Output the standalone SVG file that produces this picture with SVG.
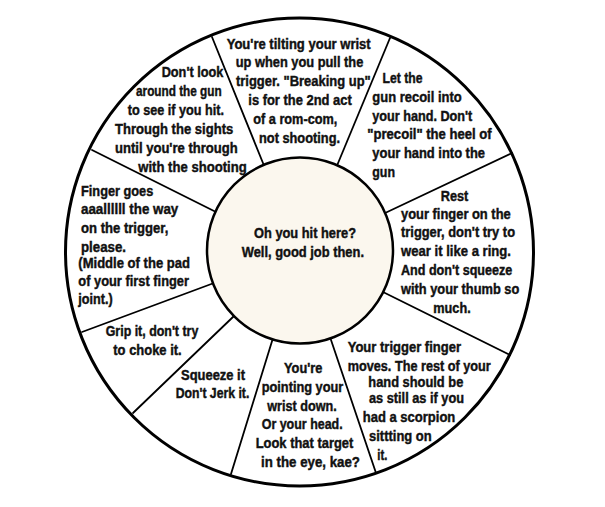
<svg xmlns="http://www.w3.org/2000/svg" width="605" height="507" viewBox="0 0 605 507">
<style>
  .t { font-family: "Liberation Sans", Arial, sans-serif; font-weight: bold; font-size: 15.5px; fill: #111; stroke: #111; stroke-width: 0.45; }
  .ring { fill: #fff; stroke: #000; stroke-width: 3; }
  .bull { fill: #fbf7ee; stroke: #000; stroke-width: 2.5; }
  .div { stroke: #000; stroke-width: 1.8; fill: none; stroke-linecap: round; }
</style>
<rect width="605" height="507" fill="#fff"/>
<g id="target-ring">
  <circle class="ring" cx="299.5" cy="252" r="234"/>
</g>
<g id="connectors">
  <line class="div" x1="265" y1="168" x2="212" y2="37"/>
  <line class="div" x1="336" y1="168" x2="390" y2="38"/>
  <line class="div" x1="383" y1="214" x2="512" y2="153"/>
  <line class="div" x1="383" y1="292" x2="510" y2="355"/>
  <line class="div" x1="330" y1="337" x2="376" y2="473"/>
  <line class="div" x1="273" y1="338" x2="231" y2="474"/>
  <line class="div" x1="234" y1="316" x2="133" y2="413"/>
  <line class="div" x1="214" y1="283" x2="82" y2="332"/>
  <line class="div" x1="216" y1="212" x2="92" y2="150"/>
</g>
<g id="bullseye">
  <circle class="bull" cx="300" cy="250.5" r="93"/>
  <text class="t" x="254" y="238" textLength="102" lengthAdjust="spacingAndGlyphs">Oh you hit here?</text>
  <text class="t" x="241.7" y="257" textLength="122.3" lengthAdjust="spacingAndGlyphs">Well, good job then.</text>
</g>
<g id="seg-top">
  <text class="t" x="226.7" y="49.3" textLength="144" lengthAdjust="spacingAndGlyphs">You're tilting your wrist</text>
  <text class="t" x="235.7" y="67.3" textLength="127.6" lengthAdjust="spacingAndGlyphs">up when you pull the</text>
  <text class="t" x="236" y="86" textLength="134.7" lengthAdjust="spacingAndGlyphs">trigger. "Breaking up"</text>
  <text class="t" x="248.3" y="105.3" textLength="103.4" lengthAdjust="spacingAndGlyphs">is for the 2nd act</text>
  <text class="t" x="253.3" y="124.3" textLength="84" lengthAdjust="spacingAndGlyphs">of a rom-com,</text>
  <text class="t" x="259" y="143.3" textLength="81" lengthAdjust="spacingAndGlyphs">not shooting.</text>
</g>
<g id="seg-top-right">
  <text class="t" x="382.5" y="82.7" textLength="40" lengthAdjust="spacingAndGlyphs">Let the</text>
  <text class="t" x="372.3" y="101.7" textLength="89.4" lengthAdjust="spacingAndGlyphs">gun recoil into</text>
  <text class="t" x="372.3" y="120.5" textLength="100" lengthAdjust="spacingAndGlyphs">your hand. Don't</text>
  <text class="t" x="367.3" y="139.3" textLength="124.4" lengthAdjust="spacingAndGlyphs">"precoil" the heel of</text>
  <text class="t" x="372.3" y="158.3" textLength="112.7" lengthAdjust="spacingAndGlyphs">your hand into the</text>
  <text class="t" x="372.3" y="176.7" textLength="22.7" lengthAdjust="spacingAndGlyphs">gun</text>
</g>
<g id="seg-right">
  <text class="t" x="440.7" y="200.7" textLength="27.6" lengthAdjust="spacingAndGlyphs">Rest</text>
  <text class="t" x="401" y="219" textLength="109.7" lengthAdjust="spacingAndGlyphs">your finger on the</text>
  <text class="t" x="401" y="237.3" textLength="114" lengthAdjust="spacingAndGlyphs">trigger, don't try to</text>
  <text class="t" x="401" y="256" textLength="110" lengthAdjust="spacingAndGlyphs">wear it like a ring.</text>
  <text class="t" x="401" y="275" textLength="111.3" lengthAdjust="spacingAndGlyphs">And don't squeeze</text>
  <text class="t" x="401" y="294" textLength="118.3" lengthAdjust="spacingAndGlyphs">with your thumb so</text>
  <text class="t" x="433.3" y="312.7" textLength="37.4" lengthAdjust="spacingAndGlyphs">much.</text>
</g>
<g id="seg-bottom-right">
  <text class="t" x="347.7" y="352.3" textLength="113.3" lengthAdjust="spacingAndGlyphs">Your trigger finger</text>
  <text class="t" x="347.7" y="370.5" textLength="143" lengthAdjust="spacingAndGlyphs">moves. The rest of your</text>
  <text class="t" x="368.3" y="386.5" textLength="95" lengthAdjust="spacingAndGlyphs">hand should be</text>
  <text class="t" x="369" y="403" textLength="95" lengthAdjust="spacingAndGlyphs">as still as if you</text>
  <text class="t" x="362.7" y="422" textLength="92.6" lengthAdjust="spacingAndGlyphs">had a scorpion</text>
  <text class="t" x="369" y="441" textLength="62.7" lengthAdjust="spacingAndGlyphs">sittting on</text>
  <text class="t" x="377.3" y="459.5" textLength="10" lengthAdjust="spacingAndGlyphs">it.</text>
</g>
<g id="seg-bottom">
  <text class="t" x="284" y="372.7" textLength="38.3" lengthAdjust="spacingAndGlyphs">You're</text>
  <text class="t" x="261.7" y="391.7" textLength="81.6" lengthAdjust="spacingAndGlyphs">pointing your</text>
  <text class="t" x="267.3" y="410.7" textLength="69.4" lengthAdjust="spacingAndGlyphs">wrist down.</text>
  <text class="t" x="261.7" y="429.3" textLength="81" lengthAdjust="spacingAndGlyphs">Or your head.</text>
  <text class="t" x="255.7" y="448.3" textLength="97.6" lengthAdjust="spacingAndGlyphs">Look that target</text>
  <text class="t" x="261" y="466.7" textLength="99" lengthAdjust="spacingAndGlyphs">in the eye, kae?</text>
</g>
<g id="seg-bottom-left">
  <text class="t" x="181" y="380" textLength="64" lengthAdjust="spacingAndGlyphs">Squeeze it</text>
  <text class="t" x="175.7" y="398.3" textLength="73.6" lengthAdjust="spacingAndGlyphs">Don't Jerk it.</text>
</g>
<g id="seg-lower-left">
  <text class="t" x="105.7" y="336" textLength="92.6" lengthAdjust="spacingAndGlyphs">Grip it, don't try</text>
  <text class="t" x="113.3" y="355" textLength="68.4" lengthAdjust="spacingAndGlyphs">to choke it.</text>
</g>
<g id="seg-left">
  <text class="t" x="81" y="195.7" textLength="72.3" lengthAdjust="spacingAndGlyphs">Finger goes</text>
  <text class="t" x="81" y="214" textLength="97.3" lengthAdjust="spacingAndGlyphs">aaallllll the way</text>
  <text class="t" x="81" y="233.3" textLength="87.3" lengthAdjust="spacingAndGlyphs">on the trigger,</text>
  <text class="t" x="81" y="251.5" textLength="45" lengthAdjust="spacingAndGlyphs">please.</text>
  <text class="t" x="78.3" y="268" textLength="111.7" lengthAdjust="spacingAndGlyphs">(Middle of the pad</text>
  <text class="t" x="78.3" y="285.7" textLength="110.7" lengthAdjust="spacingAndGlyphs">of your first finger</text>
  <text class="t" x="78.3" y="304.3" textLength="34.4" lengthAdjust="spacingAndGlyphs">joint.)</text>
</g>
<g id="seg-top-left">
  <text class="t" x="161.7" y="76.7" textLength="61.6" lengthAdjust="spacingAndGlyphs">Don't look</text>
  <text class="t" x="136" y="95.7" textLength="85.7" lengthAdjust="spacingAndGlyphs">around the gun</text>
  <text class="t" x="127.7" y="114.7" textLength="96.3" lengthAdjust="spacingAndGlyphs">to see if you hit.</text>
  <text class="t" x="115" y="133.7" textLength="118.3" lengthAdjust="spacingAndGlyphs">Through the sights</text>
  <text class="t" x="115" y="152.5" textLength="122.7" lengthAdjust="spacingAndGlyphs">until you're through</text>
  <text class="t" x="138.3" y="171.5" textLength="108.4" lengthAdjust="spacingAndGlyphs">with the shooting</text>
</g>
</svg>
